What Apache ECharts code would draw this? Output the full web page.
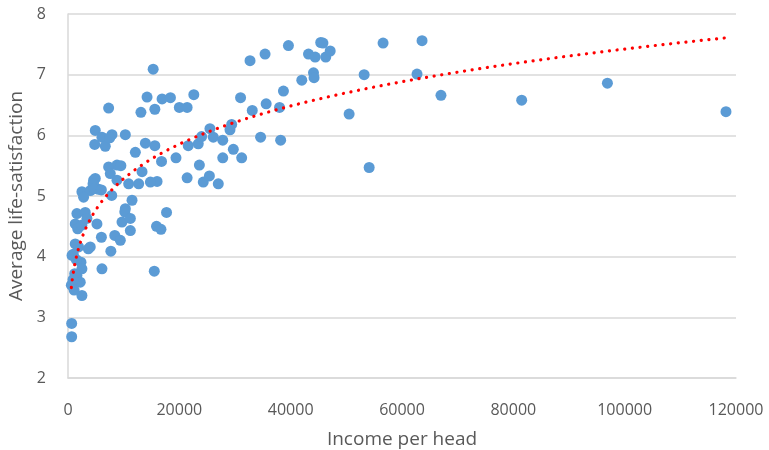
<!DOCTYPE html>
<html>
<head>
<meta charset="utf-8">
<script src="https://cdn.jsdelivr.net/npm/echarts@6/dist/echarts.min.js"></script>
<style>html,body{margin:0;padding:0;background:#fff;}#c{width:769px;height:450px;}</style>
</head>
<body>
<div id="c"></div>
<script>
// Income per head (x) and average life-satisfaction (y)
const income = [
  15300,32700,35400,39600,43200,44400,45400,45800,46300,47100,
  44100,44200,42000,38700,31000,33100,35600,38000,34600,38200,
  31200,50500,53200,54100,56600,62700,63600,67000,81500,96900,118200,
  14200,16900,18400,22600,7300,13100,15600,20000,21400,
  4900,6100,7900,10300,4800,6700,7500,12100,13900,15600,
  16800,19400,21600,23400,24000,25500,26100,27800,29100,29400,
  23600,21400,24300,25400,27000,27800,29700,
  16000,14800,12700,10900,8800,7300,7600,4900,4600,8800,13300,
  2500,4000,5500,4600,7850,11500,10300,10200,9700,11200,11200,15900,16700,17700,
  1600,3100,1300,1740,2500,5200,1900,1300,4000,3650,6000,7700,8400,9400,
  720,950,2330,1600,2500,6100,15500,2200,2500,600,660,660,
  1500,1200,900,1100,3400,2800,4500,4700,6000,9500
];
const satisfaction = [
  7.09,7.23,7.34,7.48,7.34,7.29,7.53,7.52,7.29,7.39,
  7.03,6.95,6.91,6.73,6.62,6.41,6.52,6.46,5.97,5.92,
  5.63,6.35,7.00,5.47,7.52,7.01,7.56,6.66,6.58,6.86,6.39,
  6.63,6.60,6.62,6.67,6.45,6.38,6.43,6.46,6.46,
  6.08,5.97,6.01,6.01,5.85,5.82,5.96,5.72,5.87,5.83,
  5.57,5.63,5.83,5.86,5.98,6.11,5.97,5.92,6.09,6.18,
  5.51,5.30,5.23,5.33,5.20,5.63,5.77,
  5.24,5.23,5.20,5.20,5.51,5.48,5.37,5.29,5.26,5.26,5.40,
  5.07,5.09,5.11,5.18,5.01,4.93,4.79,4.74,4.57,4.63,4.43,4.50,4.45,4.73,
  4.71,4.73,4.54,4.46,4.52,4.54,4.16,4.21,4.16,4.13,4.32,4.09,4.35,4.27,
  4.02,4.04,3.91,3.69,3.80,3.80,3.76,3.58,3.36,3.53,2.90,2.68,
  3.95,3.72,3.62,3.45,4.63,4.98,5.20,5.12,5.10,5.50
];
const xTicks = [0, 20000, 40000, 60000, 80000, 100000, 120000];
const yTicks = [2, 3, 4, 5, 6, 7, 8];

const points = income.map((x, i) => [x, satisfaction[i]]);

// Power trendline (least squares of ln y on ln x), as in a spreadsheet trendline
const n = points.length;
let sx = 0, sy = 0, sxx = 0, sxy = 0;
points.forEach(([x, y]) => {
  const lx = Math.log(x), ly = Math.log(y);
  sx += lx; sy += ly; sxx += lx * lx; sxy += lx * ly;
});
const b = (n * sxy - sx * sy) / (n * sxx - sx * sx);
const a = Math.exp((sy - b * sx) / n);
const xMin = Math.min(...income), xMax = Math.max(...income);
const trend = [];
for (let i = 0; i <= 300; i++) {
  const x = xMin + (xMax - xMin) * Math.pow(i / 300, 2);
  trend.push([x, a * Math.pow(x, b)]);
}

const FONT = "'Open Sans', sans-serif";
const chart = echarts.init(document.getElementById('c'), null, {renderer: 'canvas'});
chart.setOption({
  animation: false,
  backgroundColor: '#fff',
  grid: {left: 68, right: 33, top: 14, bottom: 72, containLabel: false, outerBoundsMode: 'none'},
  xAxis: {
    type: 'value', min: xTicks[0], max: xTicks[xTicks.length - 1], interval: 20000,
    name: 'Income per head', nameLocation: 'middle', nameGap: 52,
    nameTextStyle: {fontFamily: FONT, fontSize: 19, color: '#595959'},
    axisLine: {show: true, lineStyle: {color: '#d9d9d9', width: 1.5}},
    axisTick: {show: false},
    splitLine: {show: false},
    axisLabel: {fontFamily: FONT, fontSize: 16, color: '#595959', margin: 24,
      formatter: v => String(v)}
  },
  yAxis: {
    type: 'value', min: yTicks[0], max: yTicks[yTicks.length - 1], interval: 1,
    name: 'Average life-satisfaction', nameLocation: 'middle', nameGap: 40,
    nameTextStyle: {fontFamily: FONT, fontSize: 19, color: '#595959'},
    axisLine: {show: true, lineStyle: {color: '#d9d9d9', width: 1.5}},
    axisTick: {show: false},
    splitLine: {show: true, lineStyle: {color: '#d9d9d9', width: 1.5}},
    axisLabel: {fontFamily: FONT, fontSize: 16, color: '#595959', margin: 22,
      formatter: v => String(v)}
  },
  series: [
    {
      type: 'scatter', data: points, symbolSize: 11,
      itemStyle: {color: '#5b9bd5', opacity: 1}, z: 2
    },
    {
      type: 'line', data: trend, showSymbol: false, symbol: 'none', smooth: false,
      lineStyle: {color: '#ff0000', width: 3.2, type: [0.1, 7.6], cap: 'round'}, z: 3
    }
  ]
});
</script>
</body>
</html>
